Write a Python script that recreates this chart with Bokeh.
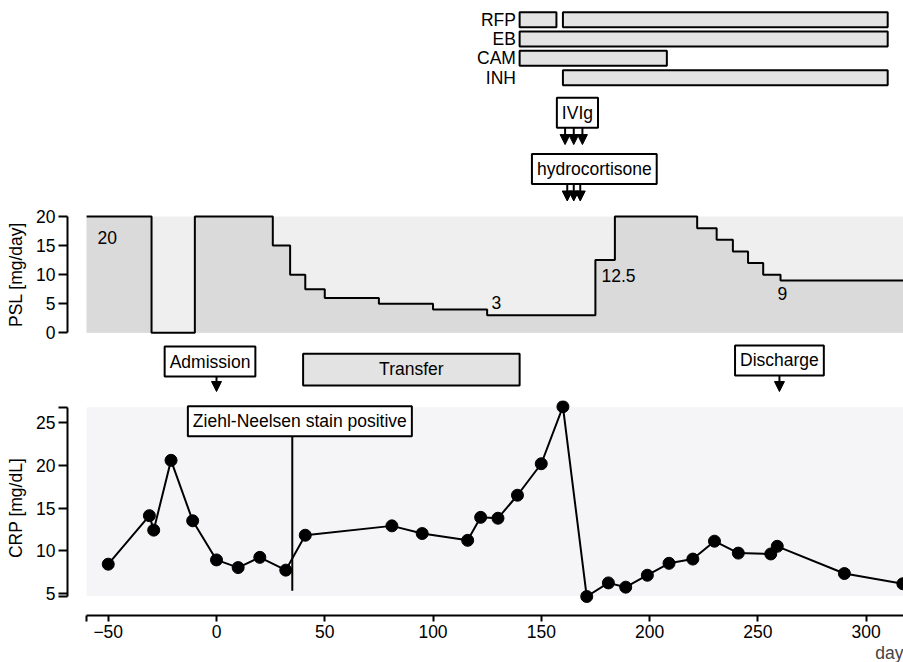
from bokeh.plotting import figure
from bokeh.layouts import column
from bokeh.models import Range1d, FixedTicker, Label, Arrow, NormalHead, ColumnDataSource, Title
from bokeh.core.properties import value
from bokeh.embed import file_html
from bokeh.resources import INLINE

FONT = "Liberation Sans"
FS = "17.5px"

# ---------------- data ----------------
# drug administration periods (days)
drug_names = ["RFP", "EB", "CAM", "INH"]
seg_drug = ["RFP", "RFP", "EB", "CAM", "INH"]
seg_start = [140, 160, 140, 140, 160]
seg_end = [157, 310, 310, 208, 310]

ivig_days = [161, 165, 169]
hydrocortisone_days = [162, 165, 168]

# prednisolone dose (mg/day), step changes
psl_change_day = [-60, -30, -10, 26, 34, 41, 50, 75, 100, 125, 175, 184, 222, 231, 238.5, 245.5, 252.5, 260.5]
psl_dose = [20, 0, 20, 15, 10, 7.5, 6, 5, 4, 3, 12.5, 20, 18, 16, 14, 12, 10, 9]
psl_end_day = 330
psl_ticks = [0, 5, 10, 15, 20]

# events
admission_day = 0
discharge_day = 260
transfer_start, transfer_end = 40, 140
zn_day = 35

# CRP (mg/dL)
crp_day = [-50, -31, -29, -21, -11, 0, 10, 20, 32, 41, 81, 95, 116, 122, 130, 139, 150, 160,
           171, 181, 189, 199, 209, 220, 230, 241, 256, 259, 290, 317]
crp_val = [8.4, 14.1, 12.4, 20.6, 13.5, 8.9, 8.0, 9.2, 7.7, 11.8, 12.9, 12.0, 11.2, 13.9, 13.8, 16.5, 20.2, 26.9,
           4.6, 6.2, 5.7, 7.1, 8.5, 9.0, 11.1, 9.7, 9.6, 10.5, 7.3, 6.1]
crp_ticks = [5, 10, 15, 20, 25]
day_ticks = [-50, 0, 50, 100, 150, 200, 250, 300]

# ---------------- layout ----------------
W = 903
LEFT = 67
x_start_day = -60
x_range = Range1d(-68.82, 317.3)

def base_fig(height, y_range, **kw):
    p = figure(width=W, height=height, x_range=x_range, y_range=y_range,
               output_backend="svg", toolbar_location=None,
               min_border=0, min_border_left=LEFT, outline_line_color=None, **kw)
    p.grid.visible = False
    return p

def style_axis(ax):
    ax.axis_line_width = 2
    ax.major_tick_line_width = 2
    ax.major_tick_in = 0
    ax.minor_tick_line_color = None
    ax.major_label_text_font = FONT
    ax.major_label_text_font_size = FS
    ax.major_label_text_color = "black"
    ax.axis_label_text_font = FONT
    ax.axis_label_text_font_size = FS
    ax.axis_label_text_font_style = "normal"
    ax.axis_label_text_color = "black"
    ax.major_label_standoff = 3

def box_label(p, x, y, text):
    p.add_layout(Label(x=x, y=y, text=text, text_align="center", text_baseline="middle",
                       text_font=FONT, text_font_size=FS, text_color="black",
                       border_line_color="black", border_line_width=2,
                       background_fill_color="white", padding=5))

def plain_label(p, x, y, text, align="center"):
    p.add_layout(Label(x=x, y=y, text=text, text_align=align, text_baseline="middle",
                       text_font=FONT, text_font_size=FS, text_color="black"))

def arrows(p, xs, y0, y1, size=10):
    src = ColumnDataSource(dict(x0=xs, x1=xs, y0=[y0] * len(xs), y1=[y1] * len(xs)))
    p.add_layout(Arrow(end=NormalHead(size=size, fill_color="black", line_color="black", line_width=1),
                       source=src, x_start="x0", y_start="y0", x_end="x1", y_end="y1",
                       line_width=2, line_color="black"))

# ---- top band: drugs, IVIg, hydrocortisone (y in row units, inverted) ----
pt = base_fig(206, Range1d(9.664, -0.993), x_axis_location=None, y_axis_location=None)
rows = [drug_names.index(d) for d in seg_drug]
pt.hbar(y=rows, left=seg_start, right=seg_end, height=0.776,
        fill_color="#e3e3e3", line_color="black", line_width=2)
pt.text(x=[138.3] * len(drug_names), y=list(range(len(drug_names))), text=drug_names,
        text_align="right", text_baseline="middle",
        text_font=value(FONT), text_font_size=FS, text_color="black")
box_label(pt, 166.7, 4.81, "IVIg")
arrows(pt, ivig_days, 5.56, 6.46)
box_label(pt, 174.5, 7.73, "hydrocortisone")
arrows(pt, hydrocortisone_days, 8.49, 9.38)

# ---- PSL panel ----
pp = base_fig(136, Range1d(-1.668, 21.72), x_axis_location=None)
ax1 = pp.yaxis[0]
style_axis(ax1)
ax1.bounds = (min(psl_ticks), max(psl_ticks))
ax1.ticker = FixedTicker(ticks=psl_ticks)
ax1.major_tick_out = 9
ax1.axis_label = "PSL [mg/day]"
ax1.axis_label_standoff = 7

pp.quad(left=[x_start_day], right=[x_range.end + 10], bottom=[min(psl_ticks)], top=[max(psl_ticks)],
        fill_color="#efefef", line_color=None)
xs = psl_change_day + [psl_end_day]
ys = psl_dose + [psl_dose[-1]]
pp.varea_step(x=xs, y1=[0] * len(xs), y2=ys, step_mode="after", fill_color="#dadada")
pp.step(xs, ys, mode="after", line_width=2, line_color="black")

plain_label(pp, -55, 16.4, "20", align="left")
plain_label(pp, 129.3, 5.26, "3")
plain_label(pp, 185.7, 9.85, "12.5")
plain_label(pp, 261.3, 6.8, "9")

# ---- events band (continues PSL units below 0) ----
pe = base_fig(58, Range1d(-11.64, -1.668), x_axis_location=None, y_axis_location=None)
box_label(pe, admission_day - 3, -4.94, "Admission")
arrows(pe, [admission_day], -7.5, -10.1)
box_label(pe, discharge_day, -4.76, "Discharge")
arrows(pe, [discharge_day], -7.3, -10.1)
pe.quad(left=[transfer_start], right=[transfer_end], top=[-3.61], bottom=[-9.06],
        fill_color="#e3e3e3", line_color="black", line_width=2)
plain_label(pe, (transfer_start + transfer_end) / 2, -6.31, "Transfer")

# ---- CRP panel ----
p2 = base_fig(262, Range1d(2.37, 27.63), min_border_bottom=44)

crp_lo, crp_hi = 4.65, 26.85
ax2 = p2.yaxis[0]
style_axis(ax2)
ax2.bounds = (crp_lo, crp_hi)
ax2.ticker = FixedTicker(ticks=[crp_lo] + crp_ticks + [crp_hi])
ax2.major_label_overrides = {crp_lo: "", crp_hi: ""}
ax2.major_tick_out = 9
ax2.axis_label = "CRP [mg/dL]"
ax2.axis_label_standoff = 7

axx = p2.xaxis[0]
style_axis(axx)
axx.bounds = (x_start_day, 330)
axx.ticker = FixedTicker(ticks=[x_start_day] + day_ticks)
axx.major_label_overrides = {x_start_day: ""}
axx.major_tick_out = 6
axx.major_label_standoff = 3
try:
    axx.axis_label_align = "right"
    axx.axis_label = "day"
    axx.axis_label_standoff = -9
except Exception:
    p2.add_layout(Title(text="day", align="right", text_font=FONT, text_font_size=FS,
                        text_font_style="normal", standoff=0), "below")

p2.quad(left=[x_start_day], right=[x_range.end + 10], bottom=[crp_lo], top=[crp_hi],
        fill_color="#f5f5f8", line_color=None)

p2.segment(x0=[zn_day], y0=[5.28], x1=[zn_day], y1=[23.4], line_width=2, line_color="black")
box_label(p2, 38.5, 25.2, "Ziehl-Neelsen stain positive")

p2.line(crp_day, crp_val, line_width=2, line_color="black")
p2.scatter(crp_day, crp_val, size=12, fill_color="black", line_color="black")

layout = column(pt, pp, pe, p2, spacing=0)
open("out.html", "w").write(file_html(layout, INLINE))
